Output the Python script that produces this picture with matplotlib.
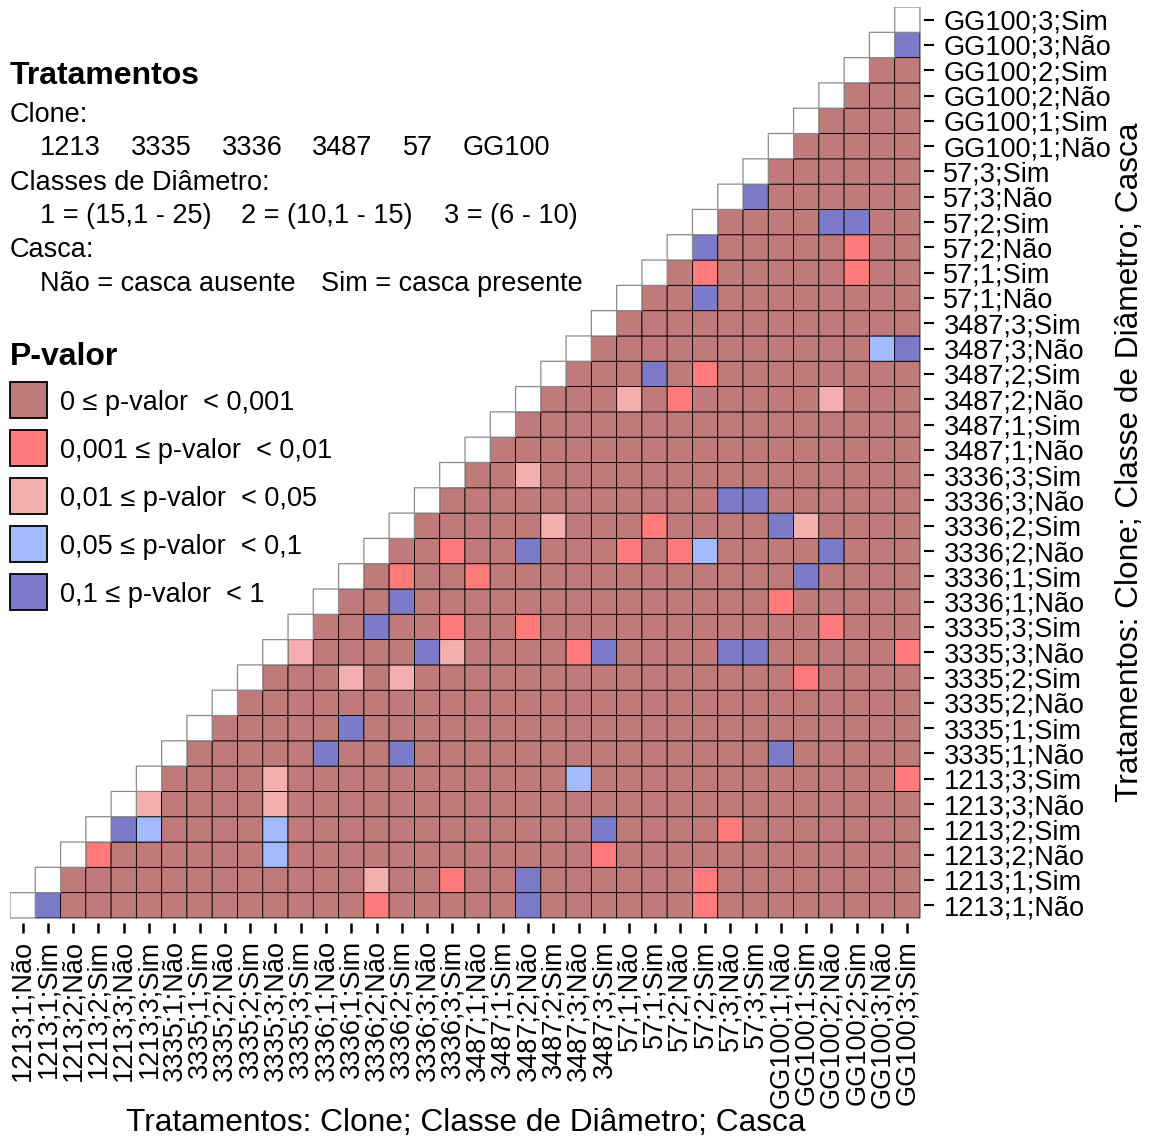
import matplotlib.pyplot as plt
import numpy as np
from matplotlib.colors import ListedColormap, BoundaryNorm
from matplotlib.patches import Rectangle

plt.rcParams['font.family'] = ['Liberation Sans', 'DejaVu Sans']

tratamentos = ['1213;1;Não', '1213;1;Sim', '1213;2;Não', '1213;2;Sim', '1213;3;Não', '1213;3;Sim',
               '3335;1;Não', '3335;1;Sim', '3335;2;Não', '3335;2;Sim', '3335;3;Não', '3335;3;Sim',
               '3336;1;Não', '3336;1;Sim', '3336;2;Não', '3336;2;Sim', '3336;3;Não', '3336;3;Sim',
               '3487;1;Não', '3487;1;Sim', '3487;2;Não', '3487;2;Sim', '3487;3;Não', '3487;3;Sim',
               '57;1;Não', '57;1;Sim', '57;2;Não', '57;2;Sim', '57;3;Não', '57;3;Sim',
               'GG100;1;Não', 'GG100;1;Sim', 'GG100;2;Não', 'GG100;2;Sim', 'GG100;3;Não', 'GG100;3;Sim']

classes_p = ['0 ≤ p-valor  < 0,001', '0,001 ≤ p-valor  < 0,01', '0,01 ≤ p-valor  < 0,05',
             '0,05 ≤ p-valor  < 0,1', '0,1 ≤ p-valor  < 1']
cores = ['#c17a7a', '#ff7b7b', '#f4aeae', '#a3baff', '#7b7bc9']

# (linha, coluna) pelo indice em tratamentos; celulas nao listadas sao p < 0,001
p_001_01 = [(0, 14), (0, 27), (1, 17), (1, 27), (2, 3), (2, 23), (3, 28), (5, 35), (9, 31),
            (10, 22), (10, 35), (11, 17), (11, 20), (11, 32), (12, 30), (13, 15), (13, 18),
            (14, 17), (14, 24), (14, 26), (15, 25), (20, 26), (21, 27), (25, 27), (25, 33), (26, 33)]
p_01_05 = [(1, 14), (4, 5), (4, 10), (5, 10), (9, 13), (9, 15), (10, 11), (10, 17), (15, 21),
           (15, 31), (17, 20), (20, 24), (20, 32)]
p_05_1 = [(2, 10), (3, 5), (3, 10), (5, 22), (14, 27), (22, 34)]
p_1_1 = [(0, 1), (0, 20), (1, 20), (3, 4), (3, 23), (6, 12), (6, 15), (6, 30), (7, 13), (10, 16),
         (10, 23), (10, 28), (10, 29), (11, 14), (12, 15), (13, 31), (14, 20), (14, 32), (15, 30),
         (16, 28), (16, 29), (21, 25), (22, 35), (24, 27), (26, 27), (27, 32), (27, 33), (28, 29),
         (34, 35)]

n = len(tratamentos)
mat = np.full((n, n), np.nan)
for i in range(n):
    mat[i, i + 1:] = 0
for k, cells in enumerate([p_001_01, p_01_05, p_05_1, p_1_1], start=1):
    for r, c in cells:
        mat[r, c] = k
diag = np.where(np.eye(n) == 1, 1.0, np.nan)

W, H = 1157, 1140
fig = plt.figure(figsize=(W / 100, H / 100), dpi=100)
# a little room between the tiles and the tick marks, as in the original
ax = fig.add_axes([10 / W, (1140 - 923) / H, 914 / W, 916 / H])

cmap = ListedColormap(cores)
norm = BoundaryNorm(np.arange(-0.5, 5.5), cmap.N)
ax.pcolor(np.ma.masked_invalid(mat), cmap=cmap, norm=norm, edgecolors='black', linewidth=0.6)
ax.pcolor(np.ma.masked_invalid(diag), cmap=ListedColormap(['white']), edgecolors='#8c8c8c', linewidth=0.9)

ax.set_xlim(0, n + 0.16)
ax.set_ylim(-0.2, n)
ax.set_xticks(np.arange(n) + 0.5)
ax.set_xticklabels(tratamentos, rotation=90)
ax.set_yticks(np.arange(n) + 0.5)
ax.set_yticklabels(tratamentos)
ax.yaxis.tick_right()
ax.tick_params(length=7.5, labelsize=19.5, colors='black')
ax.tick_params(axis='x', pad=5, width=1.8)
ax.tick_params(axis='y', pad=6.5, width=1.5)
for s in ax.spines.values():
    s.set_visible(False)


def txt(x, y, s, **kw):
    fig.text(x / W, 1 - y / H, s, **kw)


txt(466, 1131, 'Tratamentos: Clone; Classe de Diâmetro; Casca', ha='center', va='baseline', fontsize=22.8)
txt(1130, 462, 'Tratamentos: Clone; Classe de Diâmetro; Casca', ha='center', va='center',
    rotation=90, fontsize=22.8)

fs = 19.5
txt(10, 84, 'Tratamentos', fontsize=23, fontweight='bold', va='baseline')
txt(10, 122, 'Clone:', fontsize=fs, va='baseline')
for x, s in zip([40, 131, 222, 312, 403, 463], ['1213', '3335', '3336', '3487', '57', 'GG100']):
    txt(x, 155, s, fontsize=fs, va='baseline')
txt(10, 190, 'Classes de Diâmetro:', fontsize=fs, va='baseline')
for x, s in zip([40, 241, 444], ['1 = (15,1 - 25)', '2 = (10,1 - 15)', '3 = (6 - 10)']):
    txt(x, 223, s, fontsize=fs, va='baseline')
txt(10, 257, 'Casca:', fontsize=fs, va='baseline')
for x, s in zip([40, 321], ['Não = casca ausente', 'Sim = casca presente']):
    txt(x, 291, s, fontsize=fs, va='baseline')

txt(10, 365, 'P-valor', fontsize=23, fontweight='bold', va='baseline')
for k, (lab, cor) in enumerate(zip(classes_p, cores)):
    yc = 400 + 48 * k
    fig.add_artist(Rectangle((10 / W, 1 - (yc + 18) / H), 37 / W, 36 / H, transform=fig.transFigure,
                             facecolor=cor, edgecolor='black', linewidth=1.3))
    txt(60, yc + 10, lab, fontsize=fs, va='baseline')

fig.savefig('out.png', dpi=100)
